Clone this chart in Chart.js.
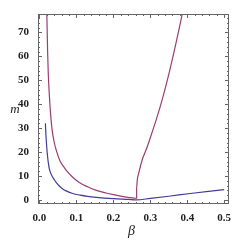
<!DOCTYPE html>
<html>
<head>
<meta charset="utf-8">
<script src="https://cdn.jsdelivr.net/npm/chart.js@4/dist/chart.umd.min.js"></script>
<style>
  html, body { margin: 0; padding: 0; background: #fff; }
  #chart { display: block; }
</style>
</head>
<body>
<canvas id="chart" width="249" height="249"></canvas>
<script>
const BLUE = "#3f3d99";
const PURPLE = "#993d74";

// blue curve (beta, m)
const blueBeta = [0.016, 0.0175, 0.019, 0.021, 0.024, 0.027, 0.033, 0.04, 0.045, 0.055, 0.065, 0.072, 0.09, 0.11, 0.13, 0.154, 0.2, 0.24, 0.262, 0.3, 0.35, 0.408, 0.5];
const blueM = [32, 27, 23.5, 19.5, 15.5, 12.8, 10.3, 8.5, 7.3, 5.6, 4.4, 3.8, 2.7, 2.0, 1.5, 1.1, 0.55, 0.2, 0, 0.65, 1.55, 2.7, 4.3];

// purple curve (beta, m): left branch, then the kink and right branch
const purpleBeta = [0.0185, 0.02, 0.022, 0.024, 0.027, 0.03, 0.034, 0.04, 0.045, 0.055, 0.065, 0.072, 0.09, 0.108, 0.13, 0.154, 0.18, 0.2, 0.22, 0.24, 0.262,
  0.263, 0.263, 0.2645, 0.27, 0.2775, 0.29, 0.3, 0.318, 0.332, 0.35, 0.368, 0.386, 0.392];
const purpleM = [95, 77, 62, 52, 43, 36, 29.5, 24, 21, 16.5, 14, 12.5, 9.5, 7.3, 5.5, 4, 2.9, 2.2, 1.6, 1.1, 0.7,
  0.7, 5, 8, 12, 16.5, 21.5, 26, 34.5, 41.8, 52.5, 64.5, 77.3, 81.5];

const xTicks = [0, 0.1, 0.2, 0.3, 0.4, 0.5];
const xTickLabels = ["0.0", "0.1", "0.2", "0.3", "0.4", "0.5"];
const yTicks = [0, 10, 20, 30, 40, 50, 60, 70];

const toPoints = (xs, ys) => xs.map((x, i) => ({ x, y: ys[i] }));

// Mathematica-style frame with inward ticks on all four sides
const framePlugin = {
  id: "frame",
  afterDraw(chart) {
    const { ctx, chartArea: a, scales } = chart;
    const xs = scales.x, ys = scales.y;
    ctx.save();
    ctx.strokeStyle = "#666";
    ctx.lineWidth = 1;
    ctx.strokeRect(a.left + 0.5, a.top + 0.5, a.right - a.left - 1, a.bottom - a.top - 1);
    ctx.beginPath();
    for (let i = 0; i <= 25; i++) {
      const px = Math.round(xs.getPixelForValue(i * 0.02)) + 0.5;
      const len = i % 5 === 0 ? 4 : 2;
      ctx.moveTo(px, a.bottom); ctx.lineTo(px, a.bottom - len);
      ctx.moveTo(px, a.top); ctx.lineTo(px, a.top + len);
    }
    for (let i = 0; i <= 38; i++) {
      const py = Math.round(ys.getPixelForValue(i * 2)) + 0.5;
      const len = i % 5 === 0 ? 4 : 2;
      ctx.moveTo(a.left, py); ctx.lineTo(a.left + len, py);
      ctx.moveTo(a.right, py); ctx.lineTo(a.right - len, py);
    }
    ctx.stroke();

    ctx.fillStyle = "#222";
    ctx.font = "italic 14px 'Liberation Serif', serif";
    ctx.textAlign = "center";
    ctx.textBaseline = "middle";
    ctx.fillText("β", (a.left + a.right) / 2 - 2, 231);
    ctx.font = "italic 13px 'Liberation Serif', serif";
    ctx.fillText("m", 15, 110);
    ctx.restore();
  },
};

const tickFont = { family: "'Liberation Serif', serif", size: 11, weight: "bold" };

new Chart(document.getElementById("chart"), {
  type: "line",
  data: {
    datasets: [
      { data: toPoints(purpleBeta, purpleM), borderColor: PURPLE, borderWidth: 1.2, pointRadius: 0, cubicInterpolationMode: "monotone" },
      { data: toPoints(blueBeta, blueM), borderColor: BLUE, borderWidth: 1.2, pointRadius: 0, cubicInterpolationMode: "monotone" },
    ],
  },
  options: {
    responsive: false,
    animation: false,
    layout: { padding: { top: 14, right: 20, left: 0, bottom: 0 } },
    plugins: { legend: { display: false }, tooltip: { enabled: false } },
    scales: {
      x: {
        type: "linear",
        min: -0.004,
        max: 0.513,
        grid: { display: false },
        border: { display: false },
        afterBuildTicks(scale) { scale.ticks = xTicks.map((v) => ({ value: v })); },
        afterFit(scale) { scale.height = 45; },
        ticks: {
          color: "#222",
          font: tickFont,
          padding: 0,
          maxRotation: 0,
          autoSkip: false,
          callback(v) { const i = xTicks.indexOf(v); return i >= 0 ? xTickLabels[i] : ""; },
        },
      },
      y: {
        type: "linear",
        min: -1.7,
        max: 77.7,
        grid: { display: false },
        border: { display: false },
        afterBuildTicks(scale) { scale.ticks = yTicks.map((v) => ({ value: v })); },
        afterFit(scale) { scale.width = 38; },
        ticks: { color: "#222", font: tickFont, padding: 1, autoSkip: false },
      },
    },
  },
  plugins: [framePlugin],
});
</script>
</body>
</html>
